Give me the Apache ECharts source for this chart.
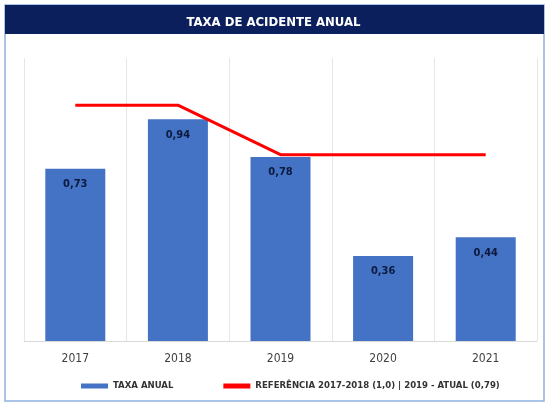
<!DOCTYPE html>
<html>
<head>
<meta charset="utf-8">
<script src="https://cdn.jsdelivr.net/npm/echarts@6/dist/echarts.min.js"></script>
<style>
  html, body { margin: 0; padding: 0; background: #fff; }
  #ec { width: 547px; height: 405px; }
</style>
</head>
<body>
<div id="ec"></div>
<script>
var anos = ["2017", "2018", "2019", "2020", "2021"];
var taxaAnual = [0.73, 0.94, 0.78, 0.36, 0.44];
var referencia = [1.0, 1.0, 0.79, 0.79, 0.79];

var fonte = "'DejaVu Sans Condensed', 'Liberation Sans Narrow', 'Liberation Sans', sans-serif";
var myChart = echarts.init(document.getElementById("ec"));

myChart.setOption({
  backgroundColor: "#fff",
  textStyle: { fontFamily: fonte },
  graphic: [
    // moldura azul clara
    {
      type: "rect",
      shape: { x: 5, y: 5, width: 539, height: 396 },
      style: { fill: "#fff", stroke: "#8fb0e0", lineWidth: 1.5 },
      z: -10
    },
    // faixa do titulo
    {
      type: "rect",
      shape: { x: 5, y: 5, width: 539, height: 29 },
      style: { fill: "#0b1f5c" },
      z: -5
    }
  ],
  title: {
    text: "TAXA DE ACIDENTE ANUAL",
    left: "center",
    top: 11,
    textStyle: { color: "#fff", fontSize: 13, fontWeight: "bold", fontFamily: fonte }
  },
  legend: {
    bottom: 9,
    left: 76,
    itemGap: 50,
    itemWidth: 27,
    itemHeight: 5,
    textStyle: { fontSize: 9.5, color: "#333", fontWeight: "bold", fontFamily: fonte },
    data: [
      { name: "TAXA ANUAL", icon: "rect" },
      { name: "REFERÊNCIA 2017-2018 (1,0) | 2019 - ATUAL (0,79)", icon: "rect" }
    ]
  },
  grid: {
    left: 24,
    right: 10,
    top: 58,
    bottom: 64
  },
  xAxis: {
    type: "category",
    data: anos,
    axisTick: { show: false },
    axisLine: { lineStyle: { color: "#d9d9d9" } },
    axisLabel: { color: "#404040", fontSize: 12, margin: 12, fontFamily: fonte },
    splitLine: { show: true, lineStyle: { color: "#e6e6e6" } }
  },
  yAxis: {
    type: "value",
    min: 0,
    max: 1.2,
    show: false,
    splitLine: false
  },
  series: [
    {
      name: "TAXA ANUAL",
      type: "bar",
      barWidth: 60,
      data: taxaAnual,
      itemStyle: { color: "#4472c4" },
      label: {
        show: true,
        position: "insideTop",
        distance: 10,
        color: "#0b1a3d",
        fontSize: 11,
        fontWeight: "bold",
        fontFamily: fonte,
        formatter: function (p) { return p.value.toFixed(2).replace(".", ","); }
      }
    },
    {
      name: "REFERÊNCIA 2017-2018 (1,0) | 2019 - ATUAL (0,79)",
      type: "line",
      data: referencia,
      symbol: "none",
      lineStyle: { color: "#ff0000", width: 3 },
      itemStyle: { color: "#ff0000" },
      z: 3
    }
  ]
});
</script>
</body>
</html>
